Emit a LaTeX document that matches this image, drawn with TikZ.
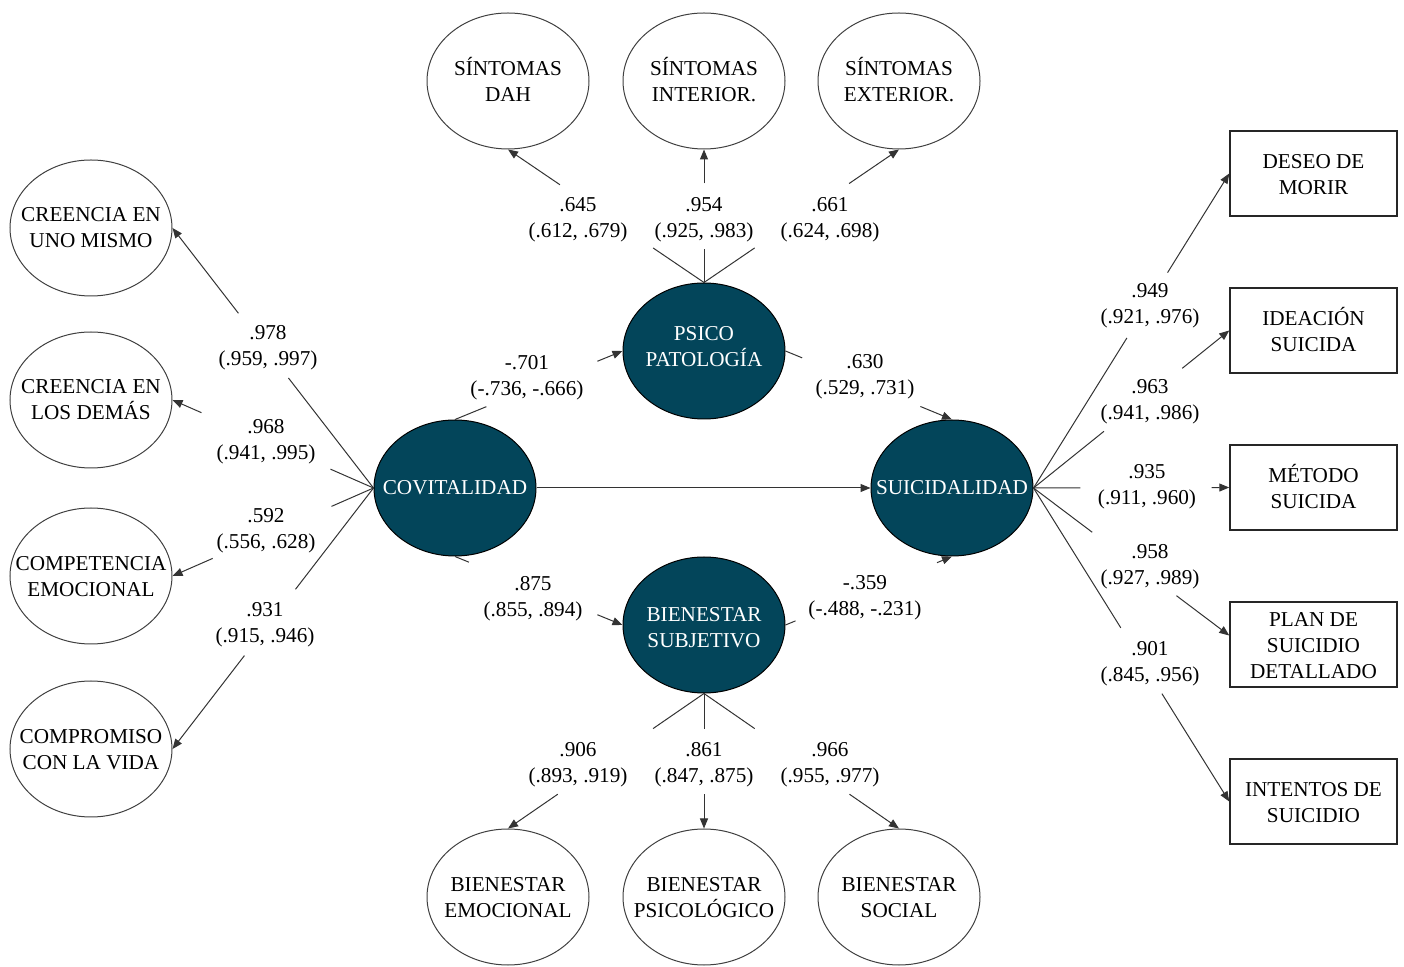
\documentclass[tikz,border=0pt]{standalone}
\usepackage{fontspec}
\setmainfont{Liberation Serif}
\usetikzlibrary{shapes.geometric,arrows.meta,calc}
\definecolor{latent}{RGB}{3,69,90}
% centred multi-line text that does not widen its node (optional vertical shift,
% applied without changing the box dimensions)
\newcommand{\stk}[2][-1.25pt]{\makebox[0pt]{\raisebox{#1}[\height][\depth]{\begin{tabular}{@{}c@{}}#2\end{tabular}}}}
% edge interrupted between fractions #3 and #4 of its length, arrow at the end
\newcommand{\gapedge}[4]{%
  \draw[link] (#1) -- ($(#1)!#3!(#2)$);
  \draw[link,tip] ($(#1)!#4!(#2)$) -- (#2);}
\begin{document}
\begin{tikzpicture}[x=0.5pt,y=-0.5pt,
  font=\fontsize{10.6}{13}\selectfont,
  obs/.style={ellipse,draw=black!75,line width=0.5pt,minimum width=81pt,minimum height=68pt,inner sep=0pt},
  lat/.style={ellipse,draw=black,fill=latent,text=white,line width=0.5pt,minimum width=81pt,minimum height=68pt,inner sep=0pt},
  ind/.style={rectangle,draw=black!85,line width=0.75pt,minimum width=83.5pt,minimum height=42.5pt,inner sep=0pt},
  coef/.style={inner sep=0pt},
  link/.style={draw=black!80,line width=0.5pt},
  tip/.style={-{Triangle[length=5pt,width=4pt]}}]
\useasboundingbox (0,0) rectangle (1404,967);

% latent factors
\node[lat] (COV) at (455,488) {\stk[-0.5pt]{COVITALIDAD}};
\node[lat] (PSI) at (704,351) {\stk[1.5pt]{PSICO\\PATOLOGÍA}};
\node[lat] (BS)  at (704,625) {\stk[-2pt]{BIENESTAR\\SUBJETIVO}};
\node[lat] (SUI) at (952,488) {\stk[-0.5pt]{SUICIDALIDAD}};

% covitality dimensions
\node[obs] (E1) at (91,228) {\stk[-0.75pt]{CREENCIA EN\\UNO MISMO}};
\node[obs] (E2) at (91,400) {\stk[-0.75pt]{CREENCIA EN\\LOS DEMÁS}};
\node[obs] (E3) at (91,576) {\stk{COMPETENCIA\\EMOCIONAL}};
\node[obs] (E4) at (91,749) {\stk{COMPROMISO\\CON LA VIDA}};

% psychopathology symptoms
\node[obs] (T1) at (508,81) {\stk{SÍNTOMAS\\DAH}};
\node[obs] (T2) at (704,81) {\stk{SÍNTOMAS\\INTERIOR.}};
\node[obs] (T3) at (899,81) {\stk{SÍNTOMAS\\EXTERIOR.}};

% well-being dimensions
\node[obs] (B1) at (508,897) {\stk{BIENESTAR\\EMOCIONAL}};
\node[obs] (B2) at (704,897) {\stk{BIENESTAR\\PSICOLÓGICO}};
\node[obs] (B3) at (899,897) {\stk{BIENESTAR\\SOCIAL}};

% suicidality indicators
\node[ind] (R1) at (1313.5,173.5) {\stk[-1.5pt]{DESEO DE\\MORIR}};
\node[ind] (R2) at (1313.5,330.5) {\stk[-1.5pt]{IDEACIÓN\\SUICIDA}};
\node[ind] (R3) at (1313.5,487.5) {\stk[-1.5pt]{MÉTODO\\SUICIDA}};
\node[ind] (R4) at (1313.5,644.5) {\stk[-1.5pt]{PLAN DE\\SUICIDIO\\DETALLADO}};
\node[ind] (R5) at (1313.5,801.5) {\stk[-1.5pt]{INTENTOS DE\\SUICIDIO}};
\coordinate (R4in) at ($(R4.west)+(0,-9)$);

% loadings of covitality
\gapedge{COV.west}{E1.east}{0.423}{0.672}
\gapedge{COV.west}{E2.east}{0.214}{0.856}
\gapedge{COV.west}{E3.east}{0.209}{0.80}
\gapedge{COV.west}{E4.east}{0.388}{0.642}
\node[coef] (L1) at (268,347) {\stk[0pt]{.978\\(.959, .997)}};
\node[coef] (L2) at (266,441) {\stk[0pt]{.968\\(.941, .995)}};
\node[coef] (L3) at (266,530) {\stk[0pt]{.592\\(.556, .628)}};
\node[coef] (L4) at (265,624) {\stk[0pt]{.931\\(.915, .946)}};

% loadings of psychopathology
\gapedge{PSI.north}{T1.south}{0.26}{0.735}
\gapedge{PSI.north}{T2.south}{0.254}{0.746}
\gapedge{PSI.north}{T3.south}{0.26}{0.744}
\node[coef] (L5) at (578,219) {\stk[0pt]{.645\\(.612, .679)}};
\node[coef] (L6) at (704,219) {\stk[0pt]{.954\\(.925, .983)}};
\node[coef] (L7) at (830,219) {\stk[0pt]{.661\\(.624, .698)}};

% loadings of subjective well-being
\gapedge{BS.south}{B1.north}{0.26}{0.746}
\gapedge{BS.south}{B2.north}{0.26}{0.746}
\gapedge{BS.south}{B3.north}{0.26}{0.746}
\node[coef] (L8) at (578,764) {\stk[0pt]{.906\\(.893, .919)}};
\node[coef] (L9) at (704,764) {\stk[0pt]{.861\\(.847, .875)}};
\node[coef] (L10) at (830,764) {\stk[0pt]{.966\\(.955, .977)}};

% structural paths
\gapedge{COV.north}{PSI.west}{0.187}{0.85}
\gapedge{PSI.east}{SUI.north}{0.10}{0.81}
\gapedge{COV.south}{BS.west}{0.083}{0.85}
\gapedge{BS.east}{SUI.south}{0.06}{0.91}
\draw[link,tip] (COV.east) -- (SUI.west);
\node[coef] (L11) at (527,377) {\stk[0pt]{-.701\\(-.736, -.666)}};
\node[coef] (L12) at (865,376) {\stk[0pt]{.630\\(.529, .731)}};
\node[coef] (L13) at (533,598) {\stk[0pt]{.875\\(.855, .894)}};
\node[coef] (L14) at (865,597) {\stk[0pt]{-.359\\(-.488, -.231)}};

% loadings of suicidality
\gapedge{SUI.east}{R1.west}{0.477}{0.685}
\gapedge{SUI.east}{R2.west}{0.36}{0.76}
\gapedge{SUI.east}{R3.west}{0.24}{0.91}
\gapedge{SUI.east}{R4in}{0.30}{0.73}
\gapedge{SUI.east}{R5.west}{0.446}{0.656}
\node[coef] (L16) at (1150,305) {\stk[0pt]{.949\\(.921, .976)}};
\node[coef] (L17) at (1150,401) {\stk[0pt]{.963\\(.941, .986)}};
\node[coef] (L18) at (1147,486) {\stk[0pt]{.935\\(.911, .960)}};
\node[coef] (L19) at (1150,566) {\stk[0pt]{.958\\(.927, .989)}};
\node[coef] (L20) at (1150,663) {\stk[0pt]{.901\\(.845, .956)}};
\end{tikzpicture}
\end{document}
